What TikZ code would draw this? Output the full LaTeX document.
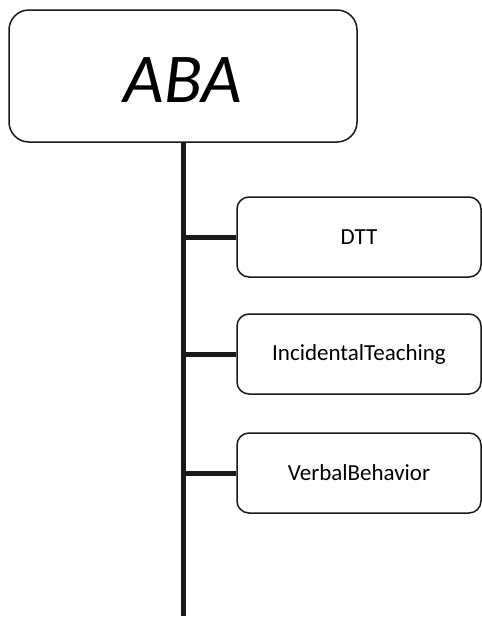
\documentclass[tikz,border=0pt]{standalone}
\usepackage{fontspec}
\setmainfont{Carlito}
\begin{document}
\begin{tikzpicture}[x=1pt,y=-1pt,
  box/.style={draw=black!90, line width=1.5pt, rounded corners=20pt, inner sep=0pt},
  child/.style={draw=black!90, line width=1.5pt, rounded corners=12pt, inner sep=0pt,
    minimum width=244pt, minimum height=80pt, font=\fontsize{23}{26}\selectfont},
  conn/.style={line width=5pt, black!90}]
\useasboundingbox (0,0) rectangle (482,625);
\node[box, minimum width=348pt, minimum height=132pt, font=\fontsize{70}{80}\selectfont\itshape] (aba) at (183,76) {\raisebox{-4pt}[\height][\depth]{ABA}};
\node[child] (dtt) at (359,237) {DTT};
\node[child] (inc) at (359,354) {IncidentalTeaching};
\node[child] (vb) at (359,473) {VerbalBehavior};
\coordinate (bot) at (183,616);
\draw[conn] (aba.south) -- (bot);
\draw[conn] (183,237) -- (dtt.west);
\draw[conn] (183,354) -- (inc.west);
\draw[conn] (183,473) -- (vb.west);
\end{tikzpicture}
\end{document}
